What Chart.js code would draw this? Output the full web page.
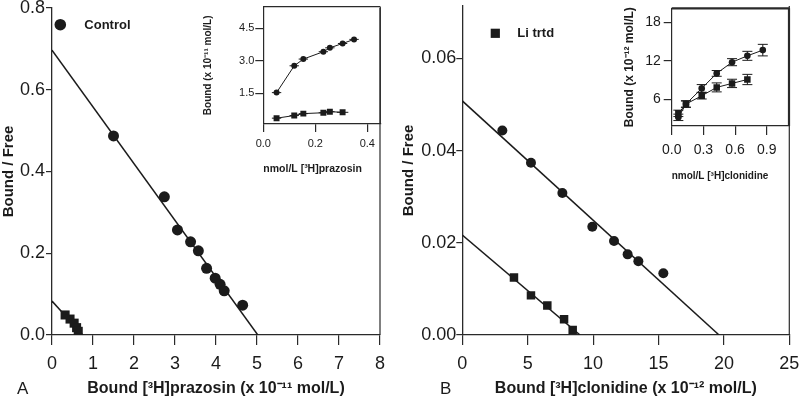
<!DOCTYPE html>
<html>
<head>
<meta charset="utf-8">
<script src="https://cdn.jsdelivr.net/npm/chart.js@4.4.1/dist/chart.umd.min.js"></script>
<style>
  html, body { margin: 0; padding: 0; background: #fff; }
  #wrap { position: relative; width: 800px; height: 396px; overflow: hidden; }
  canvas { position: absolute; }
</style>
</head>
<body>
<div id="wrap">
  <canvas id="mainA" width="400" height="396" style="left:0;top:0"></canvas>
  <canvas id="mainB" width="400" height="396" style="left:400px;top:0"></canvas>
  <canvas id="insetA" width="200" height="180" style="left:190px;top:0"></canvas>
  <canvas id="insetB" width="210" height="200" style="left:590px;top:0"></canvas>
</div>
<script>
// ======================
// Data
// ======================
// Panel A: Scatchard, [3H]prazosin
const ctrlAX = [1.50, 2.74, 3.06, 3.38, 3.57, 3.77, 3.98, 4.10, 4.20, 4.65];
const ctrlAY = [0.487, 0.338, 0.257, 0.228, 0.206, 0.163, 0.139, 0.124, 0.108, 0.073];
const liAX = [0.32, 0.44, 0.54, 0.60, 0.64];
const liAY = [0.049, 0.039, 0.029, 0.018, 0.009];
const fitCtrlAX = [0, 5.02];
const fitCtrlAY = [0.697, 0];
const fitLiAX = [0, 0.75];
const fitLiAY = [0.083, 0];
const xTicksA = [0, 1, 2, 3, 4, 5, 6, 7, 8];
const yTicksA = [0, 0.2, 0.4, 0.6, 0.8];

// Panel A inset: saturation
const insCtrlAX = [0.051, 0.119, 0.154, 0.231, 0.256, 0.305, 0.349];
const insCtrlAY = [1.53, 2.77, 3.08, 3.42, 3.60, 3.80, 3.99];
const insCtrlAErr = [0.018, 0.018, 0.018, 0.018, 0.018, 0.018, 0.018];
const insLiAX = [0.051, 0.119, 0.154, 0.231, 0.256, 0.305];
const insLiAY = [0.35, 0.47, 0.56, 0.60, 0.65, 0.62];
const insLiAErr = [0.018, 0.018, 0.018, 0.018, 0.018, 0.022];
const insXTicksA = [0, 0.2, 0.4];
const insYTicksA = [1.5, 3.0, 4.5];

// Panel B: Scatchard, [3H]clonidine
const ctrlBX = [3.06, 5.25, 7.65, 9.94, 11.6, 12.64, 13.46, 15.37];
const ctrlBY = [0.0444, 0.0374, 0.0308, 0.0235, 0.0204, 0.0175, 0.0160, 0.0134];
const liBX = [3.95, 5.25, 6.5, 7.78, 8.44];
const liBY = [0.0125, 0.0086, 0.0064, 0.0034, 0.0011];
const fitCtrlBX = [0, 19.63];
const fitCtrlBY = [0.0508, 0];
const fitLiBX = [0, 9.0];
const fitLiBY = [0.0217, 0];
const xTicksB = [0, 5, 10, 15, 20, 25];
const yTicksB = [0, 0.02, 0.04, 0.06];

// Panel B inset: saturation
const insCtrlBX = [0.063, 0.135, 0.284, 0.426, 0.571, 0.716, 0.862];
const insCtrlBY = [3.2, 5.27, 7.71, 10.05, 11.8, 12.79, 13.68];
const insCtrlBErr = [0.5, 0.5, 0.6, 0.45, 0.55, 0.7, 0.9];
const insLiBX = [0.063, 0.135, 0.284, 0.426, 0.571, 0.716];
const insLiBY = [3.82, 5.27, 6.56, 7.87, 8.49, 9.1];
const insLiBErr = [0.5, 0.5, 0.5, 0.7, 0.65, 0.8];
const insXTicksB = [0, 0.3, 0.6, 0.9];
const insYTicksB = [6, 12, 18];

// ======================
// Helpers
// ======================
const INK = '#1b1b1b';
const AXIS = '#2a2a2a';
const FONT = "'Liberation Sans', Arial, Helvetica, sans-serif";

const pts = (xs, ys) => xs.map((x, i) => ({ x: x, y: ys[i] }));
const fixY = w => s => { s.width = w; s.paddingTop = 0; s.paddingBottom = 0; };
const fixX = h => s => { s.height = h; s.paddingLeft = 0; s.paddingRight = 0; };
const setTicks = arr => s => { s.ticks = arr.map(v => ({ value: v })); };

// error bars, drawn under the markers
const errorBars = {
    id: 'errorBars',
    beforeDatasetsDraw(chart) {
        const { ctx, scales: { x, y } } = chart;
        chart.data.datasets.forEach(ds => {
            if (!ds.errX && !ds.errY) return;
            ctx.save();
            ctx.strokeStyle = INK;
            ctx.lineWidth = 1;
            ds.data.forEach((p, j) => {
                const px = x.getPixelForValue(p.x);
                const py = y.getPixelForValue(p.y);
                ctx.beginPath();
                if (ds.errX) {
                    ctx.moveTo(x.getPixelForValue(p.x - ds.errX[j]), py);
                    ctx.lineTo(x.getPixelForValue(p.x + ds.errX[j]), py);
                }
                if (ds.errY) {
                    const t = y.getPixelForValue(p.y + ds.errY[j]);
                    const b = y.getPixelForValue(p.y - ds.errY[j]);
                    ctx.moveTo(px, t); ctx.lineTo(px, b);
                    ctx.moveTo(px - 5, t); ctx.lineTo(px + 5, t);
                    ctx.moveTo(px - 5, b); ctx.lineTo(px + 5, b);
                }
                ctx.stroke();
            });
            ctx.restore();
        });
    }
};

// right border / full box, legend marker + panel letter
const extras = {
    id: 'extras',
    afterDraw(chart, args, opts) {
        const { ctx, chartArea: a } = chart;
        ctx.save();
        ctx.strokeStyle = AXIS;
        ctx.lineWidth = opts.frameWidth || 1.2;
        ctx.beginPath();
        if (opts.box) {
            ctx.moveTo(a.left, a.top);
            ctx.lineTo(a.right, a.top);
        }
        ctx.moveTo(a.right, a.top);
        ctx.lineTo(a.right, a.bottom);
        ctx.stroke();

        (opts.items || []).forEach(it => {
            ctx.fillStyle = INK;
            if (it.marker === 'circle') {
                ctx.beginPath();
                ctx.arc(it.x, it.y, it.r, 0, Math.PI * 2);
                ctx.fill();
            } else if (it.marker === 'rect') {
                ctx.fillRect(it.x - it.r, it.y - it.r, it.r * 2, it.r * 2);
            } else {
                ctx.font = it.font;
                ctx.textAlign = 'left';
                ctx.textBaseline = 'middle';
                ctx.fillText(it.text, it.x, it.y);
            }
        });
        ctx.restore();
    }
};

function axis(opts) {
    return {
        type: 'linear',
        min: opts.min,
        max: opts.max,
        afterBuildTicks: setTicks(opts.ticks),
        afterFit: opts.fit,
        border: { display: true, color: AXIS, width: opts.borderWidth || 1.3 },
        grid: { display: true, drawOnChartArea: false, drawTicks: true, tickLength: opts.tickLength, color: AXIS, lineWidth: 1.2 },
        ticks: {
            color: INK,
            padding: opts.pad,
            maxRotation: 0,
            autoSkip: false,
            font: { family: FONT, size: opts.size },
            callback: opts.fmt
        },
        title: {
            display: true,
            text: opts.title,
            color: INK,
            align: opts.align || 'center',
            padding: opts.titlePad,
            font: { family: FONT, size: opts.titleSize, weight: 'bold' }
        }
    };
}

function baseOptions(padding, scales, extraOpts) {
    return {
        responsive: false,
        animation: false,
        events: [],
        layout: { padding: padding },
        plugins: { legend: { display: false }, tooltip: { enabled: false }, extras: extraOpts },
        scales: scales
    };
}

const dot = (data, style, r) => ({
    data: data, pointStyle: style, pointRadius: r, pointBorderWidth: 0,
    backgroundColor: INK, borderColor: INK, showLine: false
});
const fitLine = data => ({
    data: data, pointRadius: 0, borderColor: INK, borderWidth: 1.5, showLine: true
});
const inset = (data, style, r, err) => Object.assign({
    data: data, pointStyle: style, pointRadius: r, pointBorderWidth: 0,
    backgroundColor: INK, borderColor: INK, borderWidth: 1, showLine: true
}, err);

// ======================
// Panel A main
// ======================
new Chart(document.getElementById('mainA'), {
    type: 'scatter',
    data: {
        datasets: [
            dot(pts(ctrlAX, ctrlAY), 'circle', 5.5),
            dot(pts(liAX, liAY), 'rect', 6.4),
            fitLine(pts(fitCtrlAX, fitCtrlAY)),
            fitLine(pts(fitLiAX, fitLiAY))
        ]
    },
    options: baseOptions({ top: 8, right: 20, left: 0, bottom: 0 }, {
        x: axis({ min: 0, max: 8, ticks: xTicksA, fit: fixX(61), tickLength: 10, pad: 8, size: 18,
                  fmt: v => String(v), title: 'Bound [³H]prazosin (x 10⁻¹¹ mol/L)', titleSize: 16,
                  titlePad: { top: 0, bottom: -2 } }),
        y: axis({ min: 0, max: 0.8, ticks: yTicksA, fit: fixY(52), tickLength: 6, pad: 1, size: 18,
                  fmt: v => v.toFixed(1), title: 'Bound / Free', titleSize: 15,
                  titlePad: { top: 0, bottom: 0 } })
    }, {
        items: [
            { marker: 'circle', x: 60.3, y: 24.7, r: 5.8 },
            { text: 'Control', x: 84.3, y: 25, font: 'bold 13px ' + FONT },
            { text: 'A', x: 17, y: 389, font: '17px ' + FONT }
        ]
    }),
    plugins: [extras]
});

// ======================
// Panel A inset
// ======================
new Chart(document.getElementById('insetA'), {
    type: 'scatter',
    data: {
        datasets: [
            inset(pts(insCtrlAX, insCtrlAY), 'circle', 3, { errX: insCtrlAErr }),
            inset(pts(insLiAX, insLiAY), 'rect', 4.2, { errX: insLiAErr })
        ]
    },
    options: baseOptions({ top: 6.7, right: 9.7, left: 0, bottom: 0 }, {
        x: axis({ min: 0, max: 0.45, ticks: insXTicksA, fit: fixX(56), tickLength: 8, pad: 5, size: 11,
                  fmt: v => v.toFixed(1), title: 'nmol/L [³H]prazosin', titleSize: 10.5, align: 'start',
                  titlePad: { top: 0, bottom: 4.7 }, borderWidth: 1.2 }),
        y: axis({ min: 0.08, max: 5.5, ticks: insYTicksA, fit: fixY(73.3), tickLength: 8, pad: 1, size: 11,
                  fmt: v => v.toFixed(1), title: 'Bound (x 10⁻¹¹ mol/L)', titleSize: 10,
                  titlePad: { top: 12, bottom: 0 }, borderWidth: 1.2 })
    }, { box: true, frameWidth: 1.2 }),
    plugins: [errorBars, extras]
});

// ======================
// Panel B main
// ======================
new Chart(document.getElementById('mainB'), {
    type: 'scatter',
    data: {
        datasets: [
            dot(pts(ctrlBX, ctrlBY), 'circle', 5),
            dot(pts(liBX, liBY), 'rect', 6),
            fitLine(pts(fitCtrlBX, fitCtrlBY)),
            fitLine(pts(fitLiBX, fitLiBY))
        ]
    },
    options: baseOptions({ top: 1, right: 10.7, left: 0, bottom: 0 }, {
        x: axis({ min: 0, max: 25, ticks: xTicksB, fit: fixX(61), tickLength: 10, pad: 8, size: 18,
                  fmt: v => String(v), title: 'Bound [³H]clonidine (x 10⁻¹² mol/L)', titleSize: 16,
                  titlePad: { top: 0, bottom: -2 } }),
        y: axis({ min: 0, max: 0.0714, ticks: yTicksB, fit: fixY(62.3), tickLength: 6, pad: 0, size: 18,
                  fmt: v => v.toFixed(2), title: 'Bound / Free', titleSize: 15,
                  titlePad: { top: 0, bottom: 0 } })
    }, {
        items: [
            { marker: 'rect', x: 95.3, y: 33.3, r: 4.6 },
            { text: 'Li trtd', x: 117.3, y: 33.5, font: 'bold 13px ' + FONT },
            { text: 'B', x: 40, y: 389, font: '17px ' + FONT }
        ]
    }),
    plugins: [extras]
});

// ======================
// Panel B inset
// ======================
new Chart(document.getElementById('insetB'), {
    type: 'scatter',
    data: {
        datasets: [
            inset(pts(insCtrlBX, insCtrlBY), 'circle', 3.3, { errY: insCtrlBErr }),
            inset(pts(insLiBX, insLiBY), 'rect', 4.6, { errY: insLiBErr })
        ]
    },
    options: baseOptions({ top: 8.3, right: 11, left: 0, bottom: 0 }, {
        x: axis({ min: 0, max: 1.11, ticks: insXTicksB, fit: fixX(74), tickLength: 9, pad: 6.5, size: 14,
                  fmt: v => v.toFixed(1), title: 'nmol/L [³H]clonidine', titleSize: 10, align: 'start',
                  titlePad: { top: 0, bottom: 17.3 }, borderWidth: 1.2 }),
        y: axis({ min: 1.85, max: 20.2, ticks: insYTicksB, fit: fixY(81.7), tickLength: 8, pad: 3, size: 14,
                  fmt: v => String(v), title: 'Bound (x 10⁻¹² mol/L)', titleSize: 12,
                  titlePad: { top: 32.8, bottom: 0 }, borderWidth: 1.2 })
    }, { box: true, frameWidth: 2.2 }),
    plugins: [errorBars, extras]
});
</script>
</body>
</html>
